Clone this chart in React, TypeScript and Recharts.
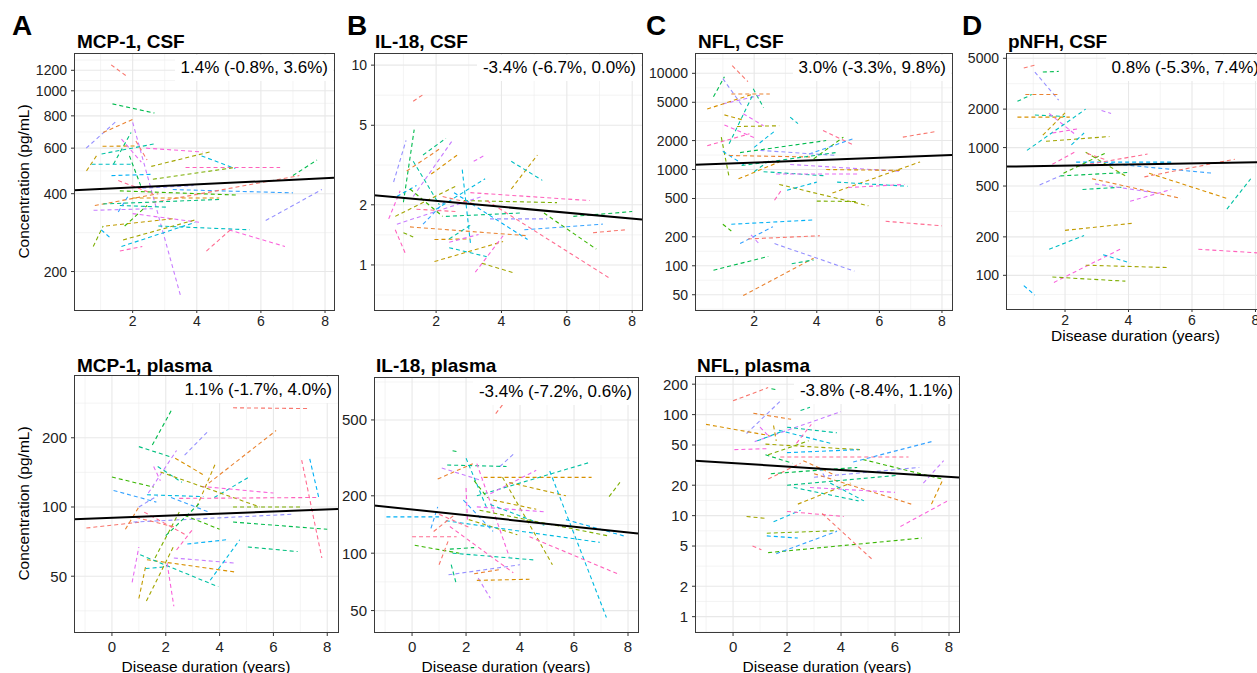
import React from "react";
import { LineChart, Line, XAxis, YAxis, CartesianGrid } from "recharts";

type Seg = [number, number, number, number];
type Pt = [number, number];

const FONT = '"Liberation Sans", Arial, Helvetica, sans-serif';
const FIG_W = 1257;
const FIG_H = 673;

// ggplot-like hue palette, subjects cycle through it
const PAL = [
  "#F8766D", "#EA8331", "#D89000", "#C09B00", "#A3A500", "#7CAE00", "#39B600",
  "#00BB4E", "#00BF7D", "#00C1A3", "#00BFC4", "#00BAE0", "#00B0F6", "#35A2FF",
  "#9590FF", "#C77CFF", "#E76BF3", "#FA62DB", "#FF62BC", "#FF6C91",
];

// ---- tick labels ----
const topXTicks = [2, 4, 6, 8];
const bottomXTicks = [0, 2, 4, 6, 8];
const mcpCsfTicks = [200, 400, 600, 800, 1000, 1200];
const il18CsfTicks = [1, 2, 5, 10];
const nflCsfTicks = [50, 100, 200, 500, 1000, 2000, 5000, 10000];
const pnfhCsfTicks = [100, 200, 500, 1000, 2000, 5000];
const mcpPlasmaTicks = [50, 100, 200];
const il18PlasmaTicks = [50, 100, 200, 500];
const nflPlasmaTicks = [1, 2, 5, 10, 20, 50, 100, 200];

// ---- subject trajectories: [duration start, value start, duration end, value end] ----
const mcpCsf: Seg[] = [
  [1.33, 1260, 1.85, 1130], [1.37, 890, 2.68, 820], [0.55, 600, 1.5, 765], [1.08, 690, 2.0, 775],
  [1.4, 520, 1.95, 690], [2.0, 755, 3.5, 160], [1.06, 610, 2.16, 612], [1.03, 570, 2.73, 625],
  [1.65, 650, 2.27, 530], [0.56, 490, 0.87, 560], [0.72, 520, 2.0, 520], [2.42, 600, 4.18, 580],
  [2.58, 510, 4.4, 580], [4.15, 560, 5.2, 500], [3.65, 505, 6.6, 505], [2.63, 455, 5.2, 505],
  [1.34, 470, 2.57, 475], [1.55, 450, 2.63, 400], [1.6, 410, 5.27, 395], [3.25, 415, 7.0, 403],
  [2.63, 370, 7.2, 470], [7.0, 470, 7.75, 540], [6.15, 315, 7.9, 415], [0.82, 360, 2.8, 400],
  [1.08, 365, 4.7, 380], [0.78, 345, 2.63, 350], [2.0, 385, 4.7, 385], [1.6, 360, 3.05, 355],
  [2.0, 335, 4.07, 310], [1.17, 300, 3.25, 320], [2.8, 300, 5.65, 290], [5.0, 290, 6.75, 250],
  [1.7, 265, 4.0, 318], [1.65, 250, 3.95, 310], [1.6, 240, 2.3, 250], [0.77, 250, 1.08, 300],
  [1.02, 290, 1.3, 270], [4.3, 240, 5.05, 290], [1.75, 300, 2.45, 360], [1.55, 340, 1.85, 390],
  [2.1, 640, 2.45, 540], [1.9, 560, 2.25, 430], [2.3, 420, 3.9, 430],
];
const il18Csf: Seg[] = [
  [1.3, 6.6, 1.65, 7.2], [1.0, 2.06, 1.33, 4.76], [0.7, 2.6, 1.08, 4.2], [1.1, 2.95, 2.1, 3.8],
  [1.6, 3.55, 2.3, 4.3], [1.3, 2.2, 2.5, 4.2], [1.85, 2.85, 2.7, 3.6], [1.3, 3.3, 2.1, 2.0],
  [3.15, 3.3, 3.5, 3.55], [4.3, 2.4, 5.1, 3.55], [4.3, 3.3, 5.25, 2.65], [0.55, 1.7, 0.9, 2.35],
  [0.75, 1.75, 2.65, 2.5], [2.0, 1.9, 3.5, 2.7], [3.05, 2.3, 6.7, 2.1], [2.85, 2.1, 5.7, 2.05],
  [2.55, 2.3, 4.8, 1.34], [3.55, 2.1, 7.35, 0.85], [5.3, 1.82, 6.9, 1.2], [4.7, 1.5, 7.1, 1.6],
  [6.8, 1.45, 7.8, 1.5], [6.2, 1.75, 8.0, 1.85], [3.65, 1.7, 5.4, 1.7], [1.2, 1.55, 4.8, 1.4],
  [2.3, 1.75, 4.6, 1.82], [0.8, 1.6, 3.4, 2.2], [1.95, 1.34, 3.05, 1.35], [2.4, 1.35, 3.1, 1.6],
  [2.4, 1.3, 3.3, 1.42], [1.95, 1.04, 4.05, 1.31], [2.4, 1.22, 3.55, 1.1], [3.2, 0.92, 4.05, 1.4],
  [3.4, 1.02, 4.4, 0.91], [2.8, 3.0, 3.05, 1.29], [0.75, 1.5, 1.05, 1.15], [1.0, 1.45, 1.3, 1.38],
  [0.8, 2.2, 1.4, 2.5], [1.4, 1.9, 2.6, 1.85], [1.2, 2.4, 2.2, 1.75], [1.6, 1.6, 2.3, 2.1],
  [2.2, 2.2, 3.3, 2.0],
];
const nflCsf: Seg[] = [
  [1.3, 12000, 1.8, 8200], [0.7, 5700, 1.05, 9200], [1.0, 8800, 1.65, 4450], [1.27, 6100, 2.5, 6100],
  [1.97, 6900, 2.3, 4400], [1.0, 4800, 2.18, 5900], [0.5, 4250, 1.97, 6100], [1.2, 1850, 1.97, 6100],
  [1.65, 3800, 2.3, 2850], [1.05, 3700, 1.6, 3300], [3.15, 3500, 3.4, 3000], [1.05, 2900, 2.0, 2150],
  [1.45, 2800, 2.8, 2850], [2.0, 1700, 2.65, 2500], [0.5, 1770, 1.85, 2350], [0.95, 2170, 1.2, 830],
  [1.0, 1550, 1.7, 1100], [4.2, 2550, 5.2, 1780], [3.9, 1290, 4.85, 2170], [3.75, 1450, 5.15, 2080],
  [6.75, 2170, 7.85, 2500], [1.55, 1500, 4.3, 2000], [2.2, 1580, 4.65, 1400], [1.2, 1400, 3.8, 1350],
  [1.6, 1100, 4.6, 1500], [3.15, 1130, 6.65, 960], [4.3, 1000, 6.65, 980], [2.3, 950, 4.3, 860],
  [2.7, 900, 5.3, 900], [4.5, 570, 7.3, 1200], [4.65, 740, 6.9, 670], [5.0, 650, 6.8, 700],
  [2.8, 700, 5.65, 420], [3.05, 610, 4.0, 740], [2.65, 480, 2.9, 630], [4.0, 470, 5.3, 465],
  [1.27, 270, 3.95, 300], [6.2, 290, 8.0, 260], [1.0, 270, 1.27, 230], [1.55, 170, 2.6, 255],
  [1.8, 190, 4.1, 205], [0.7, 90, 2.45, 125], [2.65, 170, 5.2, 88], [1.65, 49, 3.9, 120],
  [3.2, 105, 3.9, 115], [1.9, 210, 2.15, 170], [1.5, 800, 2.8, 1200], [2.0, 950, 2.5, 1250],
];
const pnfhCsf: Seg[] = [
  [0.7, 4200, 1.1, 4450], [1.3, 3900, 1.8, 3950], [1.05, 3900, 1.8, 2350], [0.75, 2600, 1.8, 2600],
  [0.5, 2300, 0.95, 2600], [3.15, 1950, 3.45, 1850], [0.5, 1730, 2.15, 1730], [1.05, 1800, 2.0, 1750],
  [1.5, 1850, 2.35, 1250], [1.3, 1250, 2.0, 1870], [0.8, 950, 2.65, 2000], [1.6, 1300, 2.4, 1400],
  [1.4, 1120, 3.4, 1220], [2.2, 1050, 2.6, 1300], [1.6, 740, 2.3, 920], [2.65, 920, 3.95, 590],
  [2.35, 770, 5.35, 770], [2.35, 710, 4.6, 890], [1.95, 630, 3.25, 900], [3.4, 750, 6.65, 630],
  [4.5, 590, 7.35, 810], [1.85, 600, 4.05, 640], [1.2, 510, 1.85, 600], [2.85, 570, 5.65, 400],
  [2.55, 470, 3.8, 490], [2.95, 520, 4.9, 440], [4.65, 630, 7.1, 400], [7.1, 330, 7.85, 570],
  [4.05, 380, 5.35, 470], [2.0, 225, 4.1, 255], [1.5, 160, 2.6, 205], [1.65, 88, 3.8, 163],
  [2.65, 120, 5.25, 115], [3.2, 145, 4.05, 125], [6.2, 160, 8.05, 150], [1.6, 97, 3.9, 90],
  [0.7, 83, 1.05, 70], [2.7, 900, 3.3, 800],
];
const mcpPlasma: Seg[] = [
  [4.5, 270, 7.3, 268], [1.5, 186, 2.2, 262], [2.7, 168, 3.6, 215], [3.6, 127, 6.1, 215],
  [1.0, 183, 2.2, 165], [1.35, 115, 2.4, 176], [2.35, 163, 3.4, 138], [1.7, 150, 2.6, 128],
  [1.55, 150, 1.8, 130], [3.15, 100, 3.85, 155], [3.8, 110, 5.1, 135], [3.3, 123, 6.0, 115],
  [1.8, 142, 5.5, 100], [1.3, 113, 3.4, 111], [2.5, 109, 7.7, 110], [4.5, 100, 7.0, 100],
  [7.35, 162, 7.7, 108], [7.05, 160, 7.8, 60], [0, 135, 1.55, 122], [0.06, 118, 1.65, 105],
  [-0.95, 81, 1.05, 86], [4.5, 86, 8.0, 80], [0.8, 86, 6.7, 93], [0.5, 80, 1.0, 100],
  [5.05, 67, 6.9, 64], [2.3, 60, 4.6, 57], [1.3, 59, 4.65, 52], [1.05, 62, 3.95, 45],
  [0.75, 47, 1.0, 67], [1.0, 40, 1.25, 55], [1.25, 54, 2.05, 55], [2.05, 57, 2.3, 37],
  [1.28, 39, 2.28, 67], [3.65, 48, 4.75, 72], [2.4, 65, 3.0, 80], [1.6, 60, 2.5, 95],
  [2.8, 69, 4.25, 72], [1.2, 95, 2.8, 75], [2.7, 92, 4.0, 80], [2.2, 110, 3.6, 95],
  [0.9, 90, 2.3, 82], [2.0, 75, 3.3, 105], [1.0, 100, 1.7, 112],
];
const il18Plasma: Seg[] = [
  [3.1, 540, 3.35, 600], [1.5, 345, 1.7, 340], [3.25, 285, 3.8, 335], [0.95, 245, 2.25, 295],
  [1.3, 290, 3.5, 285], [1.1, 280, 2.6, 240], [2.65, 250, 6.65, 250], [2.4, 200, 6.6, 300],
  [2.9, 205, 4.6, 272], [3.6, 235, 5.7, 200], [2.0, 315, 2.75, 175], [2.4, 295, 3.6, 96],
  [3.35, 250, 5.2, 87], [5.1, 270, 7.2, 46], [4.35, 122, 7.7, 77], [7.3, 198, 7.7, 235],
  [-0.95, 155, 1.0, 155], [0, 122, 1.65, 122], [0.1, 110, 1.75, 100], [0.7, 135, 0.95, 175],
  [1.0, 87, 1.35, 117], [1.4, 105, 2.3, 107], [1.35, 77, 4.0, 87], [2.3, 78, 3.25, 82],
  [1.45, 87, 1.65, 68], [2.45, 74, 2.9, 58], [2.4, 72, 4.35, 73], [1.5, 100, 4.6, 92],
  [2.4, 175, 4.9, 165], [3.0, 190, 4.6, 170], [2.9, 180, 4.9, 140], [2.0, 220, 2.05, 150],
  [2.1, 150, 3.9, 125], [1.25, 148, 6.95, 114], [1.4, 138, 3.75, 79], [2.5, 168, 7.3, 123],
  [5.7, 150, 7.95, 122], [1.0, 160, 2.2, 135], [2.3, 240, 2.8, 195], [1.9, 190, 3.0, 130],
  [0.8, 130, 1.6, 160],
];
const nflPlasma: Seg[] = [
  [0, 137, 1.3, 185], [1.42, 180, 1.67, 175], [0.5, 65, 1.8, 140], [0.75, 103, 2.15, 90],
  [2.5, 110, 2.85, 118], [0.8, 54, 4.0, 107], [-1.0, 80, 1.35, 62], [2.0, 75, 3.85, 66],
  [1.0, 75, 1.3, 62], [1.5, 78, 1.6, 55], [0.9, 55, 1.8, 68], [0.05, 45, 1.25, 46],
  [1.2, 51, 4.7, 45], [1.7, 70, 3.6, 52], [2.35, 52, 2.9, 80], [1.3, 40, 2.8, 55],
  [2.0, 42, 4.65, 45], [1.75, 38, 6.5, 38], [4.8, 36, 7.75, 23], [4.45, 34, 7.35, 54],
  [1.3, 23, 2.5, 33], [1.4, 26, 4.6, 30], [3.0, 24, 6.9, 30], [3.0, 26, 6.6, 13],
  [2.0, 20, 6.05, 25], [7.05, 21, 7.8, 35], [7.35, 13, 7.75, 22], [2.25, 19, 4.65, 14],
  [2.85, 19, 6.0, 17], [2.4, 13, 4.35, 21], [3.6, 21, 4.85, 14], [6.2, 7.8, 7.95, 14],
  [0.5, 9.8, 1.2, 9.4], [1.5, 8.7, 2.5, 11.3], [2.0, 11, 4.1, 9.8], [1.25, 6.7, 3.85, 7.1],
  [1.25, 6.3, 2.4, 6.0], [0.72, 5.0, 1.05, 4.6], [1.3, 4.3, 7.0, 6.0], [1.6, 4.2, 3.85, 7.0],
  [3.3, 10.5, 5.2, 3.6], [1.2, 40, 2.2, 33], [3.2, 30, 3.4, 24], [2.6, 35, 3.8, 25],
];

// ---- fitted population trends (ends of the black line) ----
const mcpCsfFit: Pt[] = [[0.17, 412], [8.28, 461]];
const il18CsfFit: Pt[] = [[0.1, 2.23], [8.3, 1.69]];
const nflCsfFit: Pt[] = [[0.11, 1120], [8.32, 1420]];
const pnfhCsfFit: Pt[] = [[0.14, 710], [8.3, 768]];
const mcpPlasmaFit: Pt[] = [[-1.41, 88.5], [8.4, 98]];
const il18PlasmaFit: Pt[] = [[-1.41, 178], [8.37, 127]];
const nflPlasmaFit: Pt[] = [[-1.42, 35], [8.37, 23.8]];

type PanelSpec = {
  id: string;
  letter?: string;
  lx?: number;
  title: string;
  tx: number;
  ty: number;
  note: string;
  segs: Seg[];
  fit: Pt[];
  box: [number, number, number, number];
  xDomain: [number, number];
  yDomain: [number, number];
  xTicks: number[];
  yTicks: number[];
  fs: number;
  top: boolean;
  yTitle: boolean;
  xTitleY?: number;
};

const PANELS: PanelSpec[] = [
  { id: "a1", letter: "A", lx: 12, title: "MCP-1, CSF", tx: 77, ty: 48, note: "1.4% (-0.8%, 3.6%)", segs: mcpCsf, fit: mcpCsfFit,
    box: [74, 53, 334, 310], xDomain: [0.17, 8.28], yDomain: [142, 1400], xTicks: topXTicks, yTicks: mcpCsfTicks, fs: 14, top: true, yTitle: true },
  { id: "b1", letter: "B", lx: 347, title: "IL-18, CSF", tx: 375, ty: 48, note: "-3.4% (-6.7%, 0.0%)", segs: il18Csf, fit: il18CsfFit,
    box: [374, 53, 642, 310], xDomain: [0.1, 8.3], yDomain: [0.595, 11.5], xTicks: topXTicks, yTicks: il18CsfTicks, fs: 14, top: true, yTitle: false },
  { id: "c1", letter: "C", lx: 646, title: "NFL, CSF", tx: 698, ty: 48, note: "3.0% (-3.3%, 9.8%)", segs: nflCsf, fit: nflCsfFit,
    box: [695, 53, 952, 310], xDomain: [0.11, 8.32], yDomain: [34.7, 16260], xTicks: topXTicks, yTicks: nflCsfTicks, fs: 14, top: true, yTitle: false },
  { id: "d1", letter: "D", lx: 962, title: "pNFH, CSF", tx: 1008, ty: 48, note: "0.8% (-5.3%, 7.4%)", segs: pnfhCsf, fit: pnfhCsfFit,
    box: [1006, 53, 1265, 309], xDomain: [0.14, 8.3], yDomain: [54.5, 5500], xTicks: topXTicks, yTicks: pnfhCsfTicks, fs: 14, top: true, yTitle: false, xTitleY: 341 },
  { id: "a2", title: "MCP-1, plasma", tx: 77, ty: 372, note: "1.1% (-1.7%, 4.0%)", segs: mcpPlasma, fit: mcpPlasmaFit,
    box: [74, 375, 338, 632], xDomain: [-1.41, 8.4], yDomain: [28.6, 375], xTicks: bottomXTicks, yTicks: mcpPlasmaTicks, fs: 15, top: false, yTitle: true, xTitleY: 672 },
  { id: "b2", title: "IL-18, plasma", tx: 376, ty: 372, note: "-3.4% (-7.2%, 0.6%)", segs: il18Plasma, fit: il18PlasmaFit,
    box: [374, 377, 638, 632], xDomain: [-1.41, 8.37], yDomain: [38.6, 840], xTicks: bottomXTicks, yTicks: il18PlasmaTicks, fs: 15, top: false, yTitle: false, xTitleY: 672 },
  { id: "c2", title: "NFL, plasma", tx: 697, ty: 372, note: "-3.8% (-8.4%, 1.1%)", segs: nflPlasma, fit: nflPlasmaFit,
    box: [695, 376, 959, 632], xDomain: [-1.41, 8.37], yDomain: [0.705, 241], xTicks: bottomXTicks, yTicks: nflPlasmaTicks, fs: 15, top: false, yTitle: false, xTitleY: 672 },
];

// minor grid = midpoints between breaks (in log space for y), extended one step each side
function minorLog(t: number[]) {
  const l = t.map(Math.log10);
  const out: number[] = [];
  for (let i = 0; i < l.length - 1; i++) out.push(10 ** ((l[i] + l[i + 1]) / 2));
  out.push(10 ** (l[0] - (l[1] - l[0]) / 2));
  out.push(10 ** (l[l.length - 1] + (l[l.length - 1] - l[l.length - 2]) / 2));
  return out;
}
function minorLin(t: number[]) {
  const out: number[] = [];
  for (let i = 0; i < t.length - 1; i++) out.push((t[i] + t[i + 1]) / 2);
  out.push(t[0] - (t[1] - t[0]) / 2);
  out.push(t[t.length - 1] + (t[t.length - 1] - t[t.length - 2]) / 2);
  return out;
}
const inside = (v: number, d: [number, number]) => v > d[0] && v < d[1];

const YW = 60;
const PAD = 2;

function Panel({ p }: { p: PanelSpec }) {
  const [x0, y0, x1, y1] = p.box;
  const w = x1 - x0;
  const h = y1 - y0;
  const XH = p.top ? 24 : 30;
  const tickStyle = { fontSize: p.fs, fill: "#222", fontFamily: FONT };
  const minorY = minorLog(p.yTicks).filter((v) => inside(v, p.yDomain));
  const minorX = minorLin(p.xTicks).filter((v) => inside(v, p.xDomain));
  const majorY = p.yTicks.filter((v) => inside(v, p.yDomain));
  const majorX = p.xTicks.filter((v) => inside(v, p.xDomain));

  return (
    <>
      <div style={{ position: "absolute", left: x0 - YW, top: y0 - PAD }}>
        <LineChart width={w + YW + PAD} height={h + PAD + XH} margin={{ top: PAD, right: PAD, bottom: 0, left: 0 }}>
          <CartesianGrid stroke="#EDEDED" strokeWidth={0.6} horizontalValues={minorY} verticalValues={minorX} />
          <CartesianGrid stroke="#E8E8E8" strokeWidth={1.1} horizontalValues={majorY} verticalValues={majorX} />
          <XAxis
            type="number"
            dataKey="x"
            domain={p.xDomain}
            ticks={p.xTicks}
            interval={0}
            allowDataOverflow
            height={XH}
            axisLine={false}
            stroke="#333"
            tickSize={p.top ? 3 : 4}
            tickMargin={p.top ? 3 : 5}
            tick={tickStyle}
          />
          <YAxis
            type="number"
            scale="log"
            domain={p.yDomain}
            ticks={p.yTicks}
            interval={0}
            allowDataOverflow
            width={YW}
            axisLine={false}
            stroke="#333"
            tickSize={3}
            tickMargin={4}
            tick={tickStyle}
          />
          {p.segs.map((s, i) => (
            <Line
              key={i}
              data={[{ x: s[0], y: s[1] }, { x: s[2], y: s[3] }]}
              dataKey="y"
              stroke={PAL[(i * 7) % PAL.length]}
              strokeWidth={1.1}
              strokeDasharray="4 3"
              dot={false}
              activeDot={false}
              isAnimationActive={false}
            />
          ))}
          <Line
            data={p.fit.map(([x, y]) => ({ x, y }))}
            dataKey="y"
            stroke="#000"
            strokeWidth={2}
            dot={false}
            activeDot={false}
            isAnimationActive={false}
          />
        </LineChart>
      </div>
      <div
        style={{
          position: "absolute",
          left: x0,
          top: y0,
          width: w + 1,
          height: h + 1,
          boxSizing: "border-box",
          border: "1px solid #3a3a3a",
        }}
      />
      <div
        style={{
          position: "absolute",
          right: FIG_W - x1 + 1,
          top: y0 + 2,
          background: "#fff",
          padding: "3px 5px 3px 6px",
          fontSize: 17,
          lineHeight: "20px",
          color: "#000",
          whiteSpace: "nowrap",
        }}
      >
        {p.note}
      </div>
    </>
  );
}

export default function App() {
  return (
    <div
      style={{
        position: "absolute",
        left: 0,
        top: 0,
        width: FIG_W,
        height: FIG_H,
        overflow: "hidden",
        background: "#fff",
        fontFamily: FONT,
      }}
    >
      {PANELS.map((p) => (
        <Panel key={p.id} p={p} />
      ))}
      <svg width={FIG_W} height={FIG_H} style={{ position: "absolute", left: 0, top: 0 }} fontFamily={FONT}>
        {PANELS.map((p) => (
          <g key={p.id}>
            {p.letter && (
              <text x={p.lx} y={35} fontSize={28} fontWeight="bold" fill="#000">
                {p.letter}
              </text>
            )}
            <text x={p.tx} y={p.ty} fontSize={19} fontWeight="bold" fill="#000">
              {p.title}
            </text>
            {p.yTitle && (
              <text
                x={29}
                y={(p.box[1] + p.box[3]) / 2}
                transform={`rotate(-90, 29, ${(p.box[1] + p.box[3]) / 2})`}
                textAnchor="middle"
                fontSize={15.5}
                fill="#000"
              >
                Concentration (pg/mL)
              </text>
            )}
            {p.xTitleY && (
              <text
                x={(p.box[0] + p.box[2]) / 2}
                y={p.xTitleY}
                textAnchor="middle"
                fontSize={15.5}
                fill="#000"
              >
                Disease duration (years)
              </text>
            )}
          </g>
        ))}
      </svg>
    </div>
  );
}
